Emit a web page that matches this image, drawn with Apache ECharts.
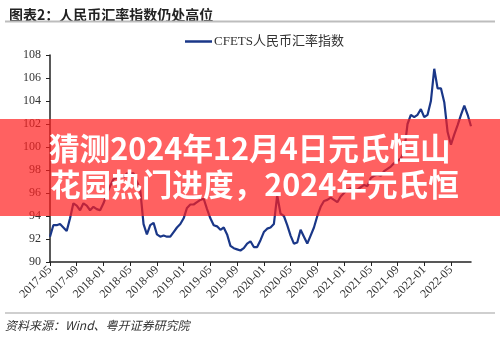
<!DOCTYPE html>
<html>
<head>
<meta charset="utf-8">
<script src="https://cdn.jsdelivr.net/npm/echarts@6/dist/echarts.min.js"></script>
<style>
  html, body { margin: 0; padding: 0; background: #fff; }
  #chart { width: 500px; height: 337px; }
</style>
</head>
<body>
<div id="chart"></div>
<script>
// CFETS RMB index, semi-monthly readings (1st and 16th of each month), from 2017-05-01
const startYear = 2017;
const startMonth = 5;
const indexValues = [
  92.2, 93.2, 93.2, 93.3, 93.0, 92.7, 93.8, 95.1, 94.9, 94.5,
  95.1, 94.9, 94.5, 94.8, 94.6, 94.5, 95.1, 95.9, 96.6, 97.2,
  97.3, 97.5, 97.4, 97.7, 97.7, 97.7, 97.0, 96.3, 93.3, 92.4,
  93.2, 93.4, 92.4, 92.2, 92.3, 92.2, 92.2, 92.6, 93.0, 93.3,
  93.8, 94.7, 95.0, 95.0, 95.2, 95.4, 95.5, 94.6, 93.8, 93.2,
  93.1, 92.8, 93.0, 92.4, 91.4, 91.2, 91.1, 91.0, 91.2, 91.6,
  91.8, 91.3, 91.3, 91.9, 92.6, 92.9, 93.0, 93.3, 95.8, 94.2,
  94.0, 93.2, 92.3, 91.6, 91.7, 92.8, 92.2, 91.6, 92.3, 93.0,
  94.0, 94.8, 95.3, 95.4, 95.6, 95.4, 95.2, 95.7, 96.0, 96.3,
  96.4, 96.2, 96.3, 96.5, 96.7, 96.6, 97.3, 97.5, 97.6, 97.5,
  97.9, 98.1, 98.3, 98.6, 98.8, 99.0, 99.6, 102.0, 102.8, 102.6,
  102.8, 103.3, 102.6, 102.8, 104.0, 106.8, 105.1, 105.1, 103.9, 101.3,
  100.2, 101.1, 101.9, 102.8, 103.6, 102.8, 101.8
];
const xTickLabels = [
  '2017-05', '2017-09', '2018-01', '2018-05', '2018-09', '2019-01',
  '2019-05', '2019-09', '2020-01', '2020-05', '2020-09', '2021-01',
  '2021-05', '2021-09', '2022-01', '2022-05'
];
const yMin = 90, yMax = 108, yStep = 2;
const seriesName = 'CFETS人民币汇率指数';

// date strings for each reading
const dates = indexValues.map((_, i) => {
  const m0 = (startMonth - 1) + Math.floor(i / 2);
  const y = startYear + Math.floor(m0 / 12);
  const m = (m0 % 12) + 1;
  return y + '-' + String(m).padStart(2, '0') + '-' + (i % 2 === 0 ? '01' : '16');
});

const showTick = (idx, val) => val.endsWith('-01') && xTickLabels.includes(val.slice(0, 7));
const serif = '"Liberation Serif", "Noto Sans CJK SC", serif';
const sans = '"Noto Sans CJK SC", sans-serif';

const chart = echarts.init(document.getElementById('chart'), null, { renderer: 'canvas' });
chart.setOption({
  animation: false,
  backgroundColor: '#fff',
  title: {
    text: '图表2：人民币汇率指数仍处高位',
    left: 4, top: 3,
    textStyle: { fontFamily: sans, fontSize: 14, fontWeight: 'bold', color: '#222' }
  },
  legend: {
    data: [seriesName],
    left: 185, top: 35, padding: 0,
    icon: 'rect', itemWidth: 27, itemHeight: 2.5,
    textStyle: { fontFamily: serif, fontSize: 13, color: '#333', padding: [0, 0, 0, -3] }
  },
  grid: { left: 50, right: 29, top: 55, bottom: 75 },
  xAxis: {
    type: 'category',
    data: dates,
    boundaryGap: false,
    axisLine: { lineStyle: { color: '#222', width: 1.5 } },
    axisTick: { interval: showTick, length: 4, lineStyle: { color: '#222' } },
    axisLabel: {
      interval: showTick,
      rotate: 45, margin: 6,
      fontFamily: serif, fontSize: 12, color: '#333',
      formatter: v => v.slice(0, 7)
    },
    splitLine: { show: false }
  },
  yAxis: {
    type: 'value',
    min: yMin, max: yMax, interval: yStep,
    axisLine: { show: true, lineStyle: { color: '#222', width: 1.5 } },
    axisTick: { show: true, length: 4, lineStyle: { color: '#222' } },
    axisLabel: { fontFamily: serif, fontSize: 12, color: '#333', margin: 9 },
    splitLine: { show: false }
  },
  series: [{
    name: seriesName,
    type: 'line',
    data: indexValues,
    showSymbol: false,
    lineStyle: { color: '#1a3788', width: 2.2 },
    itemStyle: { color: '#1a3788' }
  }],
  graphic: [
    { type: 'line', z: 50, shape: { x1: 5, y1: 21.5, x2: 495, y2: 21.5 }, style: { stroke: '#bdbdbd', lineWidth: 2 } },
    { type: 'line', z: 50, shape: { x1: 5, y1: 313, x2: 495, y2: 313 }, style: { stroke: '#cfcfcf', lineWidth: 2 } },
    {
      type: 'text', z: 50, left: 5, top: 319,
      style: { text: '资料来源：Wind、粤开证券研究院', font: 'italic 12px ' + sans, fill: '#333' }
    },
    { type: 'rect', z: 100, shape: { x: 0, y: 119, width: 500, height: 97 }, style: { fill: 'rgba(255,30,30,0.7)' } },
    {
      type: 'text', z: 101, left: 49, top: 133,
      style: { text: '猜测2024年12月4日元氏恒山', font: 'bold 30.6px ' + sans, fill: '#fff' }
    },
    {
      type: 'text', z: 101, left: 50, top: 169,
      style: { text: '花园热门进度，2024年元氏恒', font: 'bold 30.6px ' + sans, fill: '#fff' }
    }
  ]
});
</script>
</body>
</html>
